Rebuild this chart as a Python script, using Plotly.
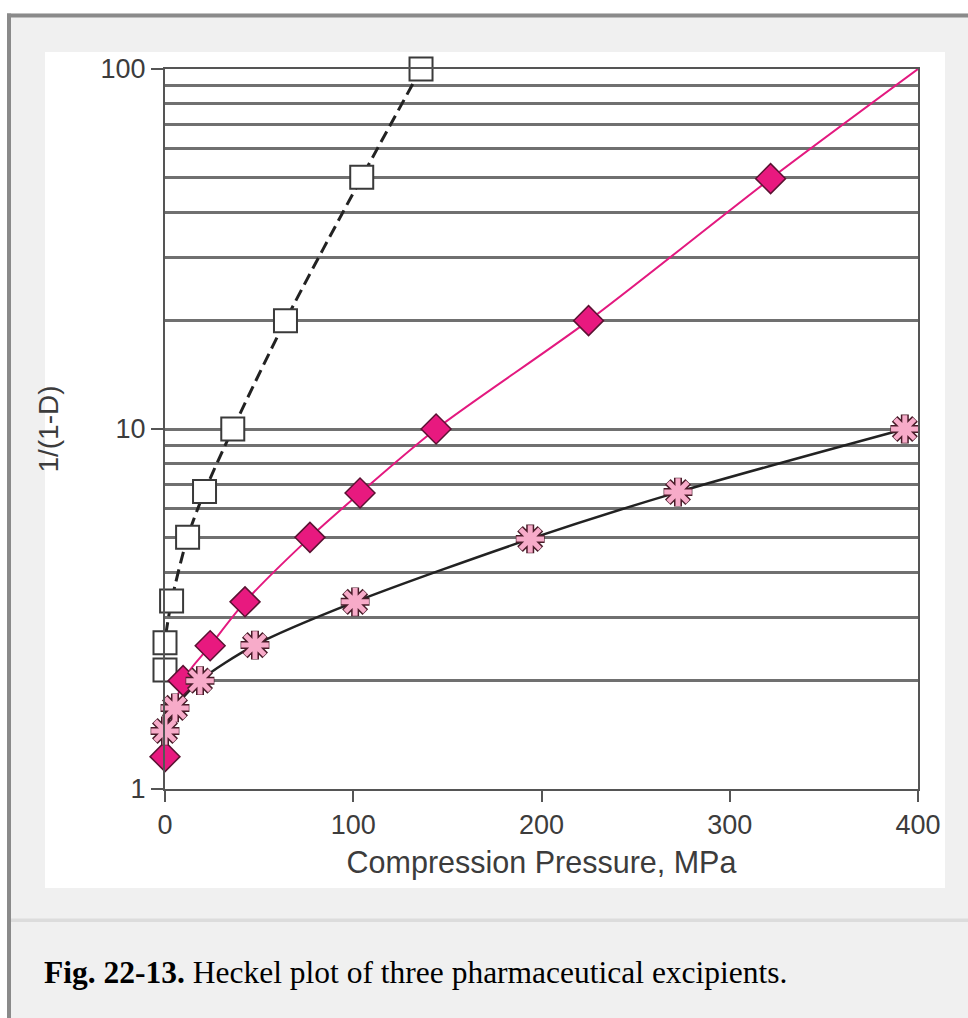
import plotly.graph_objects as go

# ---- data ----
sq_x = [0, 0, 3.5, 12, 21, 36, 64, 104.5, 136]
sq_y = [2.14, 2.55, 3.33, 5.0, 6.7, 10.0, 20.0, 50.0, 100.0]

dia_x = [0, 9.6, 24, 42.5, 77, 103.6, 144, 225, 321.7]
dia_y = [1.23, 2.0, 2.5, 3.31, 5.0, 6.64, 10.0, 20.0, 49.6]
dia_line_x = dia_x + [400]
dia_line_y = dia_y + [100]

ast_x = [0, 5.3, 18.6, 47.8, 101, 194, 272.5, 393]
ast_y = [1.45, 1.68, 2.0, 2.51, 3.31, 4.95, 6.68, 10.0]

x_ticks = [0, 100, 200, 300, 400]
y_major = [1, 10, 100]
y_minor = [2, 3, 4, 5, 6, 7, 8, 9, 20, 30, 40, 50, 60, 70, 80, 90]

# ---- page geometry helpers (pixel -> paper) ----
W, H = 968, 1018
L, R, T, B = 165, 918, 69, 789
def px(x):
    return (x - L) / (R - L)
def py(y):
    return (B - y) / (B - T)

fig = go.Figure()

# dashed square series
fig.add_trace(go.Scatter(x=sq_x, y=sq_y, mode="lines",
                         line=dict(color="#222222", width=3, dash="12px,6px", shape="spline", smoothing=0.8),
                         cliponaxis=False, hoverinfo="skip"))
# pink diamond series line
fig.add_trace(go.Scatter(x=dia_line_x, y=dia_line_y, mode="lines",
                         line=dict(color="#e3197f", width=2, shape="spline", smoothing=0.8),
                         cliponaxis=False, hoverinfo="skip"))
# black asterisk series line
fig.add_trace(go.Scatter(x=ast_x, y=ast_y, mode="lines",
                         line=dict(color="#222222", width=2.5, shape="spline", smoothing=0.8),
                         cliponaxis=False, hoverinfo="skip"))
# markers
fig.add_trace(go.Scatter(x=sq_x, y=sq_y, mode="markers",
                         marker=dict(symbol="square", size=23, color="white",
                                     line=dict(color="#3a3a3a", width=2)),
                         cliponaxis=False))
fig.add_trace(go.Scatter(x=dia_x, y=dia_y, mode="markers",
                         marker=dict(symbol="diamond", size=23, color="#e8197f",
                                     line=dict(color="#5a1232", width=1.5)),
                         cliponaxis=False))
fig.add_trace(go.Scatter(x=ast_x, y=ast_y, mode="markers",
                         marker=dict(symbol="asterisk-open", size=24, color="#4a1c2a",
                                     line=dict(color="#4a1c2a", width=8)),
                         cliponaxis=False))
fig.add_trace(go.Scatter(x=ast_x, y=ast_y, mode="markers",
                         marker=dict(symbol="asterisk-open", size=23, color="#f7abc9",
                                     line=dict(color="#f7abc9", width=5)),
                         cliponaxis=False))

shapes = [
    dict(type="rect", xref="paper", yref="paper", x0=px(0), x1=px(W), y0=py(13.5), y1=py(0),
         fillcolor="white", line=dict(width=0), layer="below"),
    dict(type="rect", xref="paper", yref="paper", x0=px(7), x1=px(W), y0=py(17.5), y1=py(13.5),
         fillcolor="#8a8a8a", line=dict(width=0), layer="below"),
    dict(type="rect", xref="paper", yref="paper", x0=px(0), x1=px(7), y0=py(H), y1=py(0),
         fillcolor="white", line=dict(width=0), layer="below"),
    dict(type="rect", xref="paper", yref="paper", x0=px(7), x1=px(11), y0=py(H), y1=py(13.5),
         fillcolor="#8a8a8a", line=dict(width=0), layer="below"),
    dict(type="rect", xref="paper", yref="paper", x0=px(45), x1=px(945), y0=py(888), y1=py(52),
         fillcolor="white", line=dict(width=0), layer="below"),
    dict(type="rect", xref="paper", yref="paper", x0=px(11), x1=px(W), y0=py(922), y1=py(918.5),
         fillcolor="#dcdcdc", line=dict(width=0), layer="below"),
]

fig.update_layout(
    width=W, height=H,
    margin=dict(l=L, r=W - R, t=T, b=H - B, pad=0),
    paper_bgcolor="#f0f0f0",
    plot_bgcolor="white",
    showlegend=False,
    shapes=shapes,
    font=dict(family="Liberation Sans, Arial, sans-serif", color="#3c3c3c"),
    xaxis=dict(range=[0, 400], tickvals=x_ticks, ticks="outside", ticklen=11, tickwidth=2,
               tickcolor="#555555", showline=True, linecolor="#555555", linewidth=2,
               mirror=True, showgrid=False, zeroline=False,
               tickfont=dict(size=27, color="#3c3c3c"),
               title=dict(text="Compression Pressure, MPa", font=dict(size=30.5, color="#3c3c3c"),
                          standoff=12)),
    yaxis=dict(type="log", range=[0, 2], tickvals=y_major, ticktext=["1", "10", "100"],
               ticks="outside", ticklen=12, tickwidth=2, tickcolor="#555555",
               showline=True, linecolor="#555555", linewidth=2, mirror=True,
               showgrid=True, gridcolor="#707070", gridwidth=2.5, zeroline=False,
               tickfont=dict(size=27, color="#3c3c3c"),
               minor=dict(tickvals=y_minor, showgrid=True, gridcolor="#707070", gridwidth=2.5,
                          ticks=""),
               title=dict(text="1/(1-D)", font=dict(size=28, color="#3c3c3c"), standoff=34)),
    annotations=[
        dict(xref="paper", yref="paper", x=px(42), y=py(972), xanchor="left", yanchor="middle",
             showarrow=False,
             text="<b>Fig. 22-13.</b> Heckel plot of three pharmaceutical excipients.",
             font=dict(family="Liberation Serif, Times New Roman, serif", size=31.5, color="black")),
    ],
)

fig.write_html("out.html")
